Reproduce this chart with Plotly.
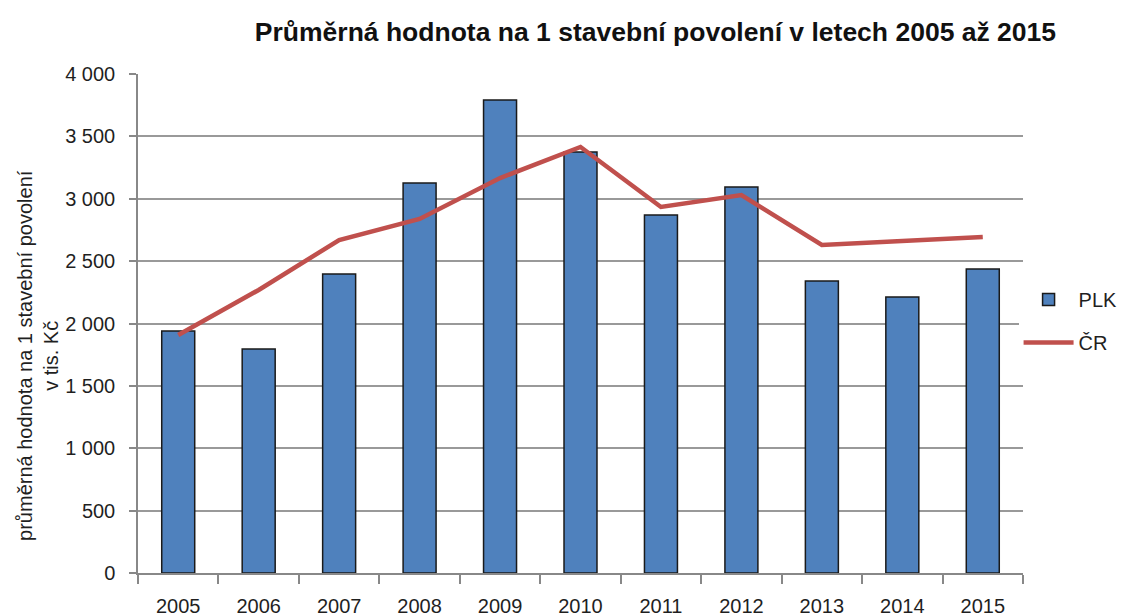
import plotly.graph_objects as go

years = ["2005", "2006", "2007", "2008", "2009", "2010", "2011", "2012", "2013", "2014", "2015"]
plk = [1940, 1796, 2397, 3126, 3792, 3375, 2870, 3094, 2341, 2212, 2437]
cr = [1908, 2269, 2669, 2838, 3166, 3415, 2934, 3030, 2629, 2661, 2693]

font = "Liberation Sans, Arial, sans-serif"
txt = "#1f1f1f"

fig = go.Figure()
fig.add_trace(go.Bar(x=years, y=plk, name="PLK", legendgroup="a",
                     marker=dict(color="#4F81BD", line=dict(color="#1a1a1a", width=1.5))))
fig.add_trace(go.Scatter(x=years, y=cr, name="ČR", mode="lines", legendgroup="b",
                         line=dict(color="#C0504D", width=4.5)))

fig.update_layout(
    width=1126, height=615,
    margin=dict(l=130, r=111, t=66, b=50, autoexpand=False),
    paper_bgcolor="white", plot_bgcolor="white",
    separators=", ",
    bargap=0.59,
    font=dict(family=font, size=20, color=txt),
    title=dict(text="<b>Průměrná hodnota na 1 stavební povolení v letech 2005 až 2015</b>",
               x=0.575, xanchor="center", y=0.962, yanchor="middle",
               font=dict(size=26.5, family=font, color="#111")),
    legend=dict(x=0.995, y=0.505, xanchor="left", yanchor="middle",
                font=dict(size=20, family=font, color=txt), traceorder="grouped",
                tracegroupgap=14, itemwidth=50),
    showlegend=True,
)
fig.update_xaxes(type="category", showline=True, linecolor="#888", linewidth=1.5,
                 ticks="outside", tickson="boundaries", ticklen=9, tickcolor="#888",
                 tickwidth=1.5, showgrid=False, automargin=False,
                 tickfont=dict(size=20, family=font, color=txt),
                 ticklabelstandoff=14)
fig.update_yaxes(range=[0, 4000], dtick=500, tickformat=",d", showline=True,
                 linecolor="#888", linewidth=1.5, ticks="outside", ticklen=7,
                 tickcolor="#888", tickwidth=1.5, showgrid=True, gridcolor="#999",
                 gridwidth=1.5, automargin=False, ticklabelstandoff=10,
                 tickfont=dict(size=20, family=font, color=txt))

fig.add_annotation(text="průměrná hodnota na 1 stavební povolení<br>v tis. Kč",
                   xref="paper", yref="paper", x=-0.113, y=0.437,
                   xanchor="center", yanchor="middle", textangle=-90, showarrow=False,
                   font=dict(size=20, family=font, color=txt))

fig.write_html("out.html")
